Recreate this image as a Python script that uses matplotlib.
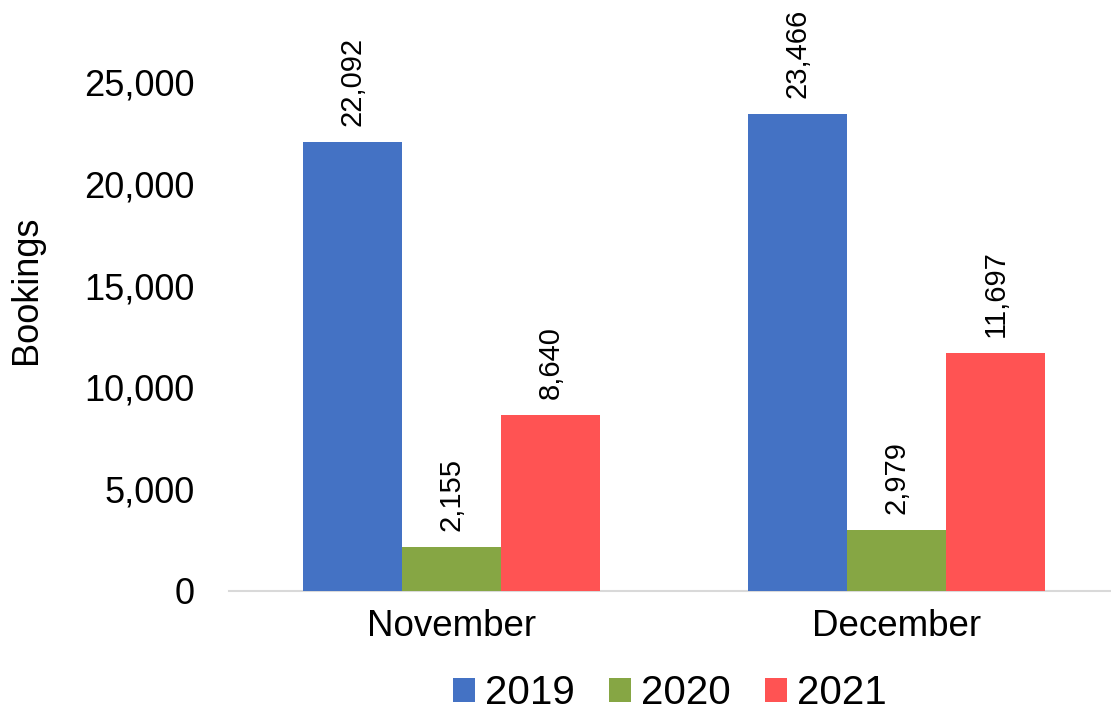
from matplotlib import pyplot as plt
import numpy as np

months = ["November", "December"]
years = ["2019", "2020", "2021"]
bookings2019 = [22092, 23466]
bookings2020 = [2155, 2979]
bookings2021 = [8640, 11697]
yTicks = [0, 5000, 10000, 15000, 20000, 25000]

colorsArr = ["#4472C4", "#86A644", "#FF5353"]

plt.rcParams["font.family"] = ["Liberation Sans", "DejaVu Sans"]

fig = plt.figure(figsize=(11.11, 7.14), dpi=100)
ax = fig.add_axes([229 / 1111, 123.5 / 714, 882 / 1111, 590.5 / 714])

xValues = np.arange(len(months))
barWidth = 0.2225
seriesList = [bookings2019, bookings2020, bookings2021]
for idx, values in enumerate(seriesList):
    offset = (idx - 1) * barWidth
    bars = ax.bar(
        xValues + offset,
        values,
        width=barWidth,
        color=colorsArr[idx],
        label=years[idx],
        zorder=3,
    )
    for bar, value in zip(bars, values):
        ax.annotate(
            f"{value:,}",
            xy=(bar.get_x() + bar.get_width() / 2, bar.get_height()),
            xytext=(0, 11.5),
            textcoords="offset points",
            rotation=90,
            ha="center",
            va="bottom",
            fontsize=21,
        )

ax.set_xlim(-0.5, 1.5 - 8 / 445)
ax.set_ylim(0, 29060)
ax.set_xticks(xValues)
ax.set_xticklabels(months, fontsize=26.5)
ax.set_yticks(yTicks)
ax.set_yticklabels([f"{t:,}" for t in yTicks], fontsize=26)
ax.tick_params(axis="x", length=0, pad=13)
ax.tick_params(axis="y", length=0, pad=24.5)

for side in ["top", "right", "left"]:
    ax.spines[side].set_visible(False)
ax.spines["bottom"].set_color("#D9D9D9")
ax.spines["bottom"].set_linewidth(1.5)
ax.spines["bottom"].set_zorder(2)

ax.set_ylabel("Bookings", fontsize=26)
ax.yaxis.set_label_coords(-0.21, 0.509)

# legend kept just inside the bottom edge
ax.legend(
    loc="lower center",
    bbox_to_anchor=(0.5, -0.2065),
    ncol=3,
    frameon=False,
    fontsize=29,
    handlelength=0.55,
    handleheight=0.55,
    handletextpad=0.25,
    columnspacing=0.84,
    borderpad=0,
    borderaxespad=0,
)

plt.savefig("out.png", dpi=100)
plt.close()
